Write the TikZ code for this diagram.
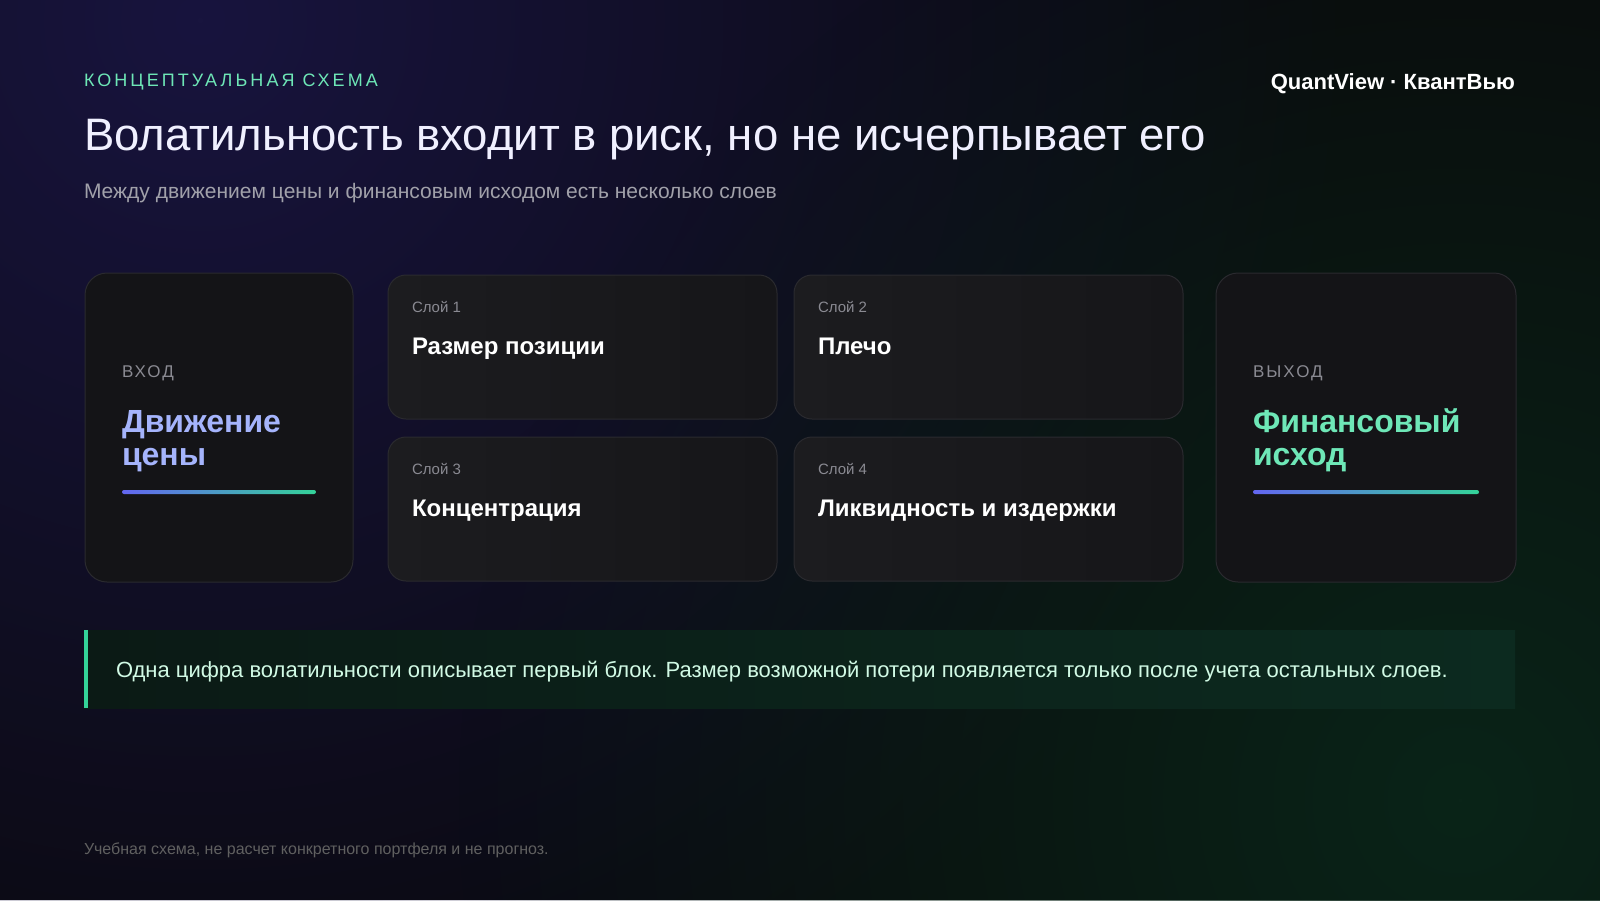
\documentclass[tikz,border=0pt]{standalone}
\usepackage{fontspec}
\setmainfont{Liberation Sans}
\usetikzlibrary{positioning, calc, fadings}

\definecolor{bg}{HTML}{09090B}
\definecolor{glowp}{HTML}{18143E}
\definecolor{glowg}{HTML}{0A2418}
\definecolor{cardfill}{HTML}{141417}
\definecolor{cardline}{HTML}{2A2A2F}
\definecolor{layerA}{HTML}{1C1C1F}
\definecolor{layerB}{HTML}{161619}
\definecolor{muted}{HTML}{8A8A92}
\definecolor{subgray}{HTML}{A1A1AA}
\definecolor{mint}{HTML}{6EE7B7}
\definecolor{lav}{HTML}{A5B4FC}
\definecolor{indigo}{HTML}{6366F1}
\definecolor{emer}{HTML}{34D399}
\definecolor{calloutA}{HTML}{0B1A15}
\definecolor{calloutB}{HTML}{0C2A1F}
\definecolor{callouttext}{HTML}{D1FAE5}

\tikzfading[name=glow, inner color=transparent!0, outer color=transparent!100]

\tikzstyle{card} = [draw=cardline, line width=1pt, fill=cardfill, rounded corners=22pt,
  inner sep=0pt, outer sep=0pt, anchor=north west]
\tikzstyle{layer} = [card, rounded corners=18pt, left color=layerA, right color=layerB,
  minimum width=389pt, minimum height=144pt]
\tikzstyle{txt} = [inner sep=0pt, outer sep=0pt, anchor=base west]
\tikzstyle{tag} = [txt, text=muted, font=\fontsize{15}{18}\selectfont]
\tikzstyle{head} = [txt, text=white, font=\fontsize{24}{28}\selectfont\bfseries]
\tikzstyle{spaced} = [txt, text=muted, font=\fontsize{17}{20}\selectfont\addfontfeatures{LetterSpace=12}]
\tikzstyle{big} = [txt, font=\fontsize{32}{33}\selectfont\bfseries]

\begin{document}
\begin{tikzpicture}[x=1pt, y=-1pt]
    % background and glows
    \fill[bg] (0,0) rectangle (1600,900);
    \useasboundingbox (0,0) rectangle (1600,900);
    \begin{scope}
        \clip (0,0) rectangle (1600,900);
        \fill[glowp, path fading=glow] (200,20) circle (1150);
        \fill[glowg, path fading=glow] (1460,800) circle (1000);
    \end{scope}

    % header
    \node[txt, text=mint, font=\fontsize{18}{22}\selectfont\addfontfeatures{LetterSpace=17}] (kicker) at (84,86) {КОНЦЕПТУАЛЬНАЯ СХЕМА};
    \node[txt, text=white!94!blue, font=\fontsize{45.5}{50}\selectfont] (title) at (84,150) {Волатильность входит в риск, но не исчерпывает его};
    \node[txt, text=subgray, font=\fontsize{21}{25}\selectfont] (subtitle) at (84,198) {Между движением цены и финансовым исходом есть несколько слоев};
    \node[inner sep=0pt, anchor=base east, text=white, font=\fontsize{22}{26}\selectfont\bfseries] (brand) at (1515,89) {QuantView · КвантВью};

    % input card
    \node[card, minimum width=268pt, minimum height=309pt] (in) at (85,273) {};
    \node[spaced] (inlab) at ($(in.north west)+(37,104)$) {ВХОД};
    \node[big, text=lav] (inname) at ($(in.north west)+(37,159)$) {Движение};
    \node[big, text=lav] (inname2) at ($(inname.base west)+(0,33)$) {цены};
    \shade[left color=indigo, right color=emer, rounded corners=2pt]
        ($(in.north west)+(37,217)$) rectangle ($(in.north east)+(-37,221)$);

    % layers
    \foreach \id/\x/\y/\num/\name in {l1/388/275/1/Размер позиции, l2/794/275/2/Плечо,
                                      l3/388/437/3/Концентрация, l4/794/437/4/Ликвидность и издержки} {
        \node[layer] (\id) at (\x,\y) {};
        \node[tag] (\id tag) at ($(\id.north west)+(24,37)$) {Слой \num};
        \node[head] (\id name) at ($(\id.north west)+(24,79)$) {\name};
    }

    % output card
    \node[card, minimum width=300pt, minimum height=309pt] (out) at (1216,273) {};
    \node[spaced] (outlab) at ($(out.north west)+(37,104)$) {ВЫХОД};
    \node[big, text=mint] (outname) at ($(out.north west)+(37,159)$) {Финансовый};
    \node[big, text=mint] (outname2) at ($(outname.base west)+(0,33)$) {исход};
    \shade[left color=indigo, right color=emer, rounded corners=2pt]
        ($(out.north west)+(37,217)$) rectangle ($(out.north east)+(-37,221)$);

    % callout
    \shade[left color=calloutA, right color=calloutB] (84,630) rectangle (1515,708);
    \fill[emer] (84,630) rectangle (88,708);
    \node[txt, text=callouttext, font=\fontsize{22}{26}\selectfont] (note) at (116,677)
        {Одна цифра волатильности описывает первый блок. Размер возможной потери появляется только после учета остальных слоев.};

    % footer
    \node[txt, text=gray!75!black, font=\fontsize{16}{19}\selectfont] (foot) at (84,854)
        {Учебная схема, не расчет конкретного портфеля и не прогноз.};
\end{tikzpicture}
\end{document}
